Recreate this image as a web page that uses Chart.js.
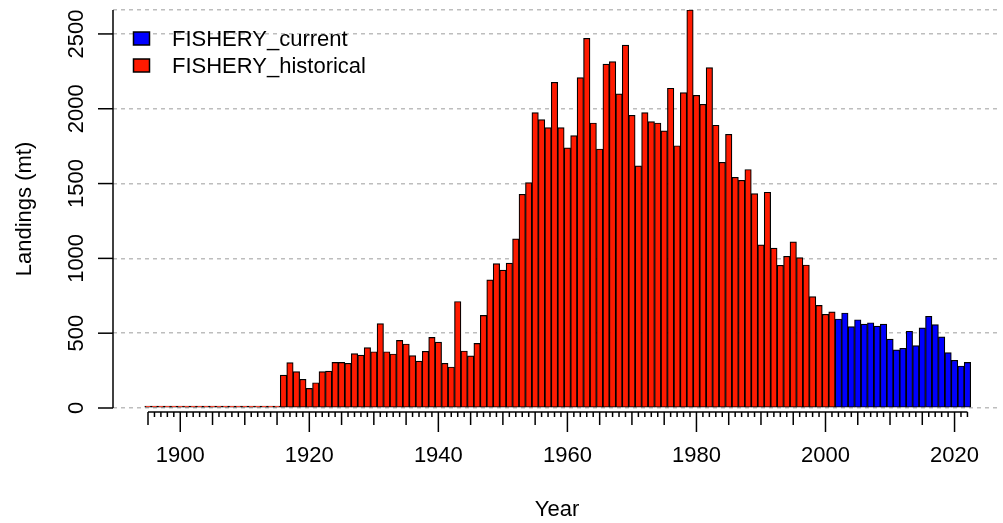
<!DOCTYPE html>
<html><head><meta charset="utf-8">
<script src="https://cdn.jsdelivr.net/npm/chart.js@4.4.1/dist/chart.umd.min.js"></script>
<style>html,body{margin:0;padding:0;background:#fff}canvas{display:block}</style>
</head><body>
<canvas id="c" width="1003" height="523"></canvas>
<script>
// ---- data ----
const firstYear = 1895;
const lastYear = 2022;
const historicalStart = 1895;
const historical = [
  0,0,0,0,0,0,0,0,0,0,0,0,0,0,0,0,0,0,0,0,0,            // 1895-1915
  220,303,243,192,131,169,243,247,305,305,              // 1916-1925
  299,363,354,403,376,564,376,361,452,428,              // 1926-1935
  350,314,379,472,441,299,274,712,381,349,              // 1936-1945
  432,619,856,965,922,969,1130,1428,1506,1974,          // 1946-1955
  1927,1874,2177,1874,1738,1820,2208,2471,1905,1731,    // 1956-1965
  2299,2315,2099,2426,1956,1618,1974,1914,1905,1852,    // 1966-1975
  2137,1753,2108,2660,2090,2030,2275,1890,1642,1829,    // 1976-1985
  1542,1522,1594,1433,1090,1442,1069,954,1014,1110,     // 1986-1995
  1005,956,744,686,626,642                              // 1996-2001
];
const currentStart = 2002;
const current = [
  595,635,544,590,561,570,548,561,461,388,              // 2002-2011
  399,513,417,535,613,557,475,370,319,281,305           // 2012-2022
];
const seriesNames = ['FISHERY_current', 'FISHERY_historical'];
const seriesColors = ['#0000FF', '#FF1A00'];
const yTickValues = [0, 500, 1000, 1500, 2000, 2500];
const yMax = 2660;
const xLabelYears = [1900, 1920, 1940, 1960, 1980, 2000, 2020];
const xTitle = 'Year';
const yTitle = 'Landings (mt)';

const allYears = [];
for (let yr = firstYear; yr <= lastYear; yr++) allYears.push(yr);

const FONT = '22px "Liberation Sans", Arial, Helvetica, sans-serif';

const rStyle = {
  id: 'rStyle',
  afterDraw(chart) {
    const {ctx, scales: {x, y}} = chart;
    ctx.save();
    ctx.strokeStyle = '#000';
    ctx.fillStyle = '#000';
    ctx.lineWidth = 1.5;
    // x axis
    const axY = 412;
    ctx.beginPath();
    ctx.moveTo(x.getPixelForValue(firstYear), axY);
    ctx.lineTo(x.getPixelForValue(lastYear), axY);
    ctx.stroke();
    allYears.forEach(yr => {
      const px = x.getPixelForValue(yr);
      const len = (yr % 20 === 0) ? 20 : (yr % 5 === 0 ? 13 : 5);
      ctx.beginPath(); ctx.moveTo(px, axY); ctx.lineTo(px, axY + len); ctx.stroke();
    });
    ctx.font = FONT;
    ctx.textAlign = 'center';
    ctx.textBaseline = 'alphabetic';
    xLabelYears.forEach(yr => ctx.fillText(String(yr), x.getPixelForValue(yr), 462));
    ctx.fillText(xTitle, (chart.chartArea.left + chart.chartArea.right) / 2, 516);
    // y axis
    const axX = 113;
    ctx.beginPath();
    ctx.moveTo(axX, y.getPixelForValue(0));
    ctx.lineTo(axX, y.getPixelForValue(yMax));
    ctx.stroke();
    yTickValues.forEach(v => {
      const py = y.getPixelForValue(v);
      ctx.beginPath(); ctx.moveTo(axX - 15, py); ctx.lineTo(axX, py); ctx.stroke();
      ctx.save();
      ctx.translate(83, py);
      ctx.rotate(-Math.PI / 2);
      ctx.fillText(String(v), 0, 0);
      ctx.restore();
    });
    ctx.save();
    ctx.translate(31, (y.getPixelForValue(0) + y.getPixelForValue(yMax)) / 2);
    ctx.rotate(-Math.PI / 2);
    ctx.fillText(yTitle, 0, 0);
    ctx.restore();
    // legend
    const rows = [46, 73];
    chart.data.datasets.forEach((ds, i) => {
      const by = rows[i] - 14;
      ctx.fillStyle = ds.backgroundColor;
      ctx.fillRect(133.5, by, 16, 13);
      ctx.lineWidth = 1.5;
      ctx.strokeStyle = '#000';
      ctx.strokeRect(133.5, by, 16, 13);
      ctx.fillStyle = '#000';
      ctx.textAlign = 'left';
      ctx.fillText(ds.label, 172, rows[i]);
    });
    ctx.restore();
  }
};

new Chart(document.getElementById('c'), {
  type: 'bar',
  data: {
    datasets: [
      {
        label: seriesNames[0],
        data: current.map((v, i) => ({x: currentStart + i, y: v})),
        backgroundColor: seriesColors[0]
      },
      {
        label: seriesNames[1],
        data: historical.map((v, i) => ({x: historicalStart + i, y: v})),
        backgroundColor: seriesColors[1]
      }
    ]
  },
  options: {
    responsive: false,
    animation: false,
    devicePixelRatio: 1,
    layout: {padding: {left: 113, right: 2, top: 10, bottom: 115}},
    datasets: {
      bar: {
        borderColor: '#000',
        borderWidth: 1.2,
        borderSkipped: false,
        barPercentage: 1,
        categoryPercentage: 1,
        grouped: false,
        minBarLength: 2
      }
    },
    scales: {
      x: {
        type: 'linear',
        display: false,
        offset: false,
        min: 1889.575,
        max: 2027.2,
        afterBuildTicks: s => { s.ticks = allYears.map(v => ({value: v})); }
      },
      y: {
        type: 'linear',
        display: true,
        min: 0,
        max: yMax,
        z: 1,
        afterBuildTicks: s => { s.ticks = yTickValues.concat([yMax]).map(v => ({value: v})); },
        ticks: {display: false},
        grid: {drawTicks: false, color: 'rgba(90,90,90,0.4)', lineWidth: 1.5},
        border: {display: false, dash: [4, 4]}
      }
    },
    plugins: {legend: {display: false}, tooltip: {enabled: false}}
  },
  plugins: [rStyle]
});
</script>
</body></html>
